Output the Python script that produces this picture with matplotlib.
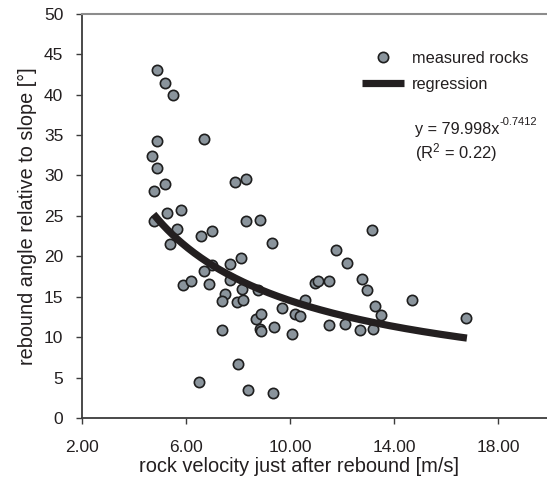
import numpy as np
import matplotlib.pyplot as plt
from matplotlib.lines import Line2D

plt.rcParams['font.family'] = ['Liberation Sans', 'DejaVu Sans']
plt.rcParams['mathtext.fontset'] = 'custom'
plt.rcParams['mathtext.rm'] = 'Liberation Sans'
plt.rcParams['mathtext.it'] = 'Liberation Sans'

# rock velocity after rebound [m/s] and rebound angle [deg]
velocity = [4.87, 5.19, 5.49, 4.87, 6.68, 4.68, 4.88, 5.18, 4.78, 7.87,
            8.30, 5.27, 5.80, 4.77, 5.67, 8.30, 8.83, 6.59, 6.98, 5.38,
            9.29, 8.10, 7.68, 7.01, 6.68, 5.87, 6.20, 6.88, 7.68, 8.16,
            8.77, 7.48, 7.40, 7.97, 8.20, 8.68, 8.87, 8.86, 8.90, 7.38,
            7.99, 6.51, 8.37, 9.36, 9.37, 9.68, 10.08, 10.17, 10.38, 10.59,
            10.97, 11.09, 11.49, 11.49, 11.77, 12.10, 12.17, 12.68, 12.78, 12.97,
            13.14, 13.18, 13.28, 13.49, 14.67, 16.78]
angle = [43.1, 41.4, 39.9, 34.2, 34.5, 32.4, 30.9, 28.9, 28.1, 29.2,
         29.5, 25.3, 25.7, 24.4, 23.4, 24.4, 24.5, 22.5, 23.1, 21.5,
         21.7, 19.8, 19.1, 18.9, 18.2, 16.5, 17.0, 16.6, 17.1, 16.0,
         15.8, 15.3, 14.5, 14.3, 14.6, 12.3, 12.8, 11.0, 10.7, 10.9,
         6.7, 4.4, 3.4, 3.05, 11.2, 13.6, 10.35, 12.9, 12.6, 14.6,
         16.7, 17.0, 17.0, 11.5, 20.8, 11.6, 19.2, 10.9, 17.2, 15.8,
         23.3, 11.0, 13.8, 12.7, 14.6, 12.4]

# power-law fit y = a * x^b
coef_a = 79.998
coef_b = -0.7412
r_squared = 0.22
fit_range = (4.75, 16.8)

xticks = [2, 6, 10, 14, 18]
yticks = [0, 5, 10, 15, 20, 25, 30, 35, 40, 45, 50]

txt = '#231f20'
axcol = '#3c3c3c'

fig = plt.figure(figsize=(5.47, 4.83), dpi=100)
ax = fig.add_axes([0.150, 0.1346, 0.85, 0.837])

xfit = np.linspace(fit_range[0], fit_range[1], 200)
yfit = coef_a * xfit ** coef_b

ax.plot(velocity, angle, 'o', ms=7.4, mfc='#8a949c', mec='#1e1e1e', mew=1.2, zorder=2)
ax.plot(xfit, yfit, color='#231f20', lw=5.2, solid_capstyle='butt', zorder=3)

ax.set_xlim(2, 19.88)
ax.set_ylim(0, 50)
ax.set_xticks(xticks)
ax.set_xticklabels(['%.2f' % v for v in xticks])
ax.set_yticks(yticks)

ax.spines['right'].set_visible(False)
ax.spines['top'].set_color('#8c8c8c')
ax.spines['top'].set_linewidth(1.5)
for s in ['left', 'bottom']:
    ax.spines[s].set_color(axcol)
    ax.spines[s].set_linewidth(1.3)
ax.tick_params(direction='out', length=4, width=1.0, color=axcol,
               labelsize=12.5, labelcolor=txt)
ax.tick_params(axis='x', pad=11.5)
ax.tick_params(axis='y', pad=9.5)

ax.set_xlabel('rock velocity just after rebound [m/s]', fontsize=14.4, color=txt,
              labelpad=2, x=0.467)
ax.set_ylabel('rebound angle relative to slope [°]', fontsize=14.3, color=txt, labelpad=5)

handles = [Line2D([], [], ls='none', marker='o', ms=7.4, mfc='#8a949c', mec='#1e1e1e', mew=1.2),
           Line2D([], [], color='#231f20', lw=5.2, solid_capstyle='butt')]
ax.legend(handles, ['measured rocks', 'regression'], loc='upper left',
          bbox_to_anchor=(0.57, 0.945), frameon=False, fontsize=11.8,
          handlelength=2.6, handletextpad=0.45, labelspacing=0.7, labelcolor=txt)

eq = ax.text(14.8, 35.07, 'y = %.3fx' % coef_a, fontsize=11.7, color=txt,
             va='baseline', ha='left')
ax.annotate('%.4f' % coef_b, xy=(1.0, 1.0), xycoords=eq, xytext=(0.5, -3.0),
            textcoords='offset points', fontsize=8, color=txt, va='bottom', ha='left')
ax.text(14.8, 32.1, '(R$^2$ = %.2f)' % r_squared, fontsize=11.9, color=txt,
        va='baseline', ha='left')

fig.savefig('out.png', dpi=100)
